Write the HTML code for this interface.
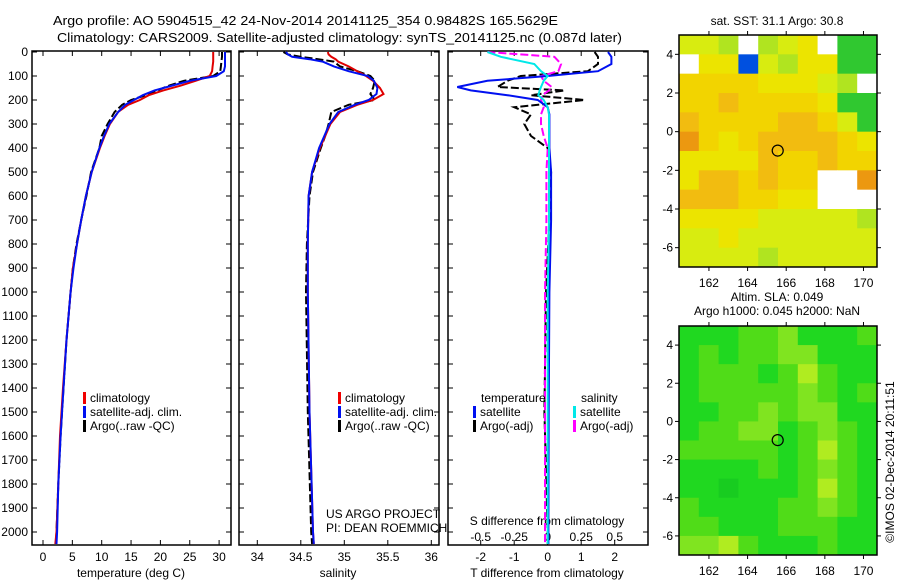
<!DOCTYPE html>
<html><head><meta charset="utf-8"><style>
html,body{margin:0;padding:0;background:#fff}
svg{display:block;font-family:"Liberation Sans",sans-serif}
text{fill:#000}
</style></head><body>
<svg id="fig" width="900" height="580" viewBox="0 0 900 580" xmlns="http://www.w3.org/2000/svg">
<text x="53" y="25" font-size="13" textLength="505" lengthAdjust="spacingAndGlyphs">Argo profile: AO 5904515_42 24-Nov-2014 20141125_354 0.98482S 165.5629E</text>
<text x="57" y="42" font-size="13" textLength="565" lengthAdjust="spacingAndGlyphs">Climatology: CARS2009. Satellite-adjusted climatology: synTS_20141125.nc (0.087d later)</text>
<g id="g"></g>
</svg>
<script>
// ---- profile data ----
const depthT = [0,20,40,60,80,100,120,140,160,180,200,220,250,300,350,400,500,600,700,800,900,1000,1200,1400,1600,1800,2000,2050];
const tempClim = [29.0,29.0,29.0,28.9,28.8,28.4,26,23.5,20.5,18,16.5,14.5,12.8,11.4,10.5,9.7,8.3,7.3,6.5,5.8,5.1,4.7,4.0,3.4,2.9,2.6,2.3,2.1];
const tempSat = [31.0,31.0,31.0,31.0,30.8,29.5,25,22,19,17,15.5,14,12.8,11.3,10.4,9.6,8.3,7.3,6.5,5.8,5.2,4.7,4.0,3.5,3.0,2.6,2.4,2.3];
const tempArgo = [30.5,30.5,30.4,30.3,30.2,29,24,21.5,19.5,17.5,15,13.5,12.2,11,10,9.6,8.2,7.4,6.5,5.7,5.1,4.7,4.0,3.5,3.0,2.6,2.3,2.2];
const depthS = [0,10,20,30,40,60,80,100,120,150,175,200,220,250,300,350,400,500,600,800,1000,1500,2000,2050];
const salClim = [34.81,34.82,34.85,34.9,34.93,35.05,35.15,35.25,35.33,35.41,35.45,35.33,35.15,34.95,34.84,34.78,34.72,34.63,34.59,34.58,34.58,34.6,34.64,34.65];
const salSat = [34.33,34.35,34.4,34.6,34.75,34.88,35.05,35.27,35.34,35.38,35.37,35.28,35.12,34.93,34.83,34.77,34.71,34.63,34.59,34.58,34.58,34.6,34.64,34.65];
const salArgo = [34.3,34.35,34.5,34.7,34.88,34.95,35.15,35.3,35.35,35.33,35.3,35.35,35.05,34.85,34.82,34.78,34.73,34.64,34.6,34.57,34.56,34.58,34.62,34.63];
const depthD = [0,20,50,80,100,120,146,160,180,200,230,260,300,350,400,500,700,1000,1500,2000,2050];
const dTsat = [1.8,1.9,1.9,1.5,0.0,-1.8,-2.7,-2.3,-1.2,-0.3,0.0,0.05,0.05,0.05,0.05,0.1,0.1,0.05,0.03,0.02,0.02];
const dTargo = [1.4,1.5,1.5,1.2,-0.8,-1.2,-1.5,0.5,-0.5,1.1,-1.0,-0.5,-0.7,-0.5,0.0,0.1,0.05,-0.05,-0.1,0.0,0.0];
const dSsat = [-0.45,-0.35,-0.1,-0.05,0.0,-0.03,-0.05,-0.06,-0.07,-0.03,0.0,0.01,0.01,0.01,0.01,0.01,0.01,0.0,0.0,0.0,0.0];
const dSargo = [-0.45,0.05,0.1,0.08,-0.05,-0.03,0.03,0.01,-0.04,-0.05,-0.03,-0.05,-0.05,-0.03,0.0,-0.01,-0.01,-0.02,-0.02,-0.02,-0.02];
const depthTicks = [0,100,200,300,400,500,600,700,800,900,1000,1100,1200,1300,1400,1500,1600,1700,1800,1900,2000];
const tTicks = [0,5,10,15,20,25,30];
const sTicks = [34,34.5,35,35.5,36];
const sTickLabels = ["34","34.5","35","35.5","36"];
const dTTicks = [-2,-1,0,1,2];
const dSTicks = [-0.5,-0.25,0,0.25,0.5];
const dSTickLabels = ["-0.5","-0.25","0","0.25","0.5"];
// ---- map data ----
const lonTicks = [162,164,166,168,170];
const latTicks = [4,2,0,-2,-4,-6];
const sstGrid = [
[29.3,29.2,29.0,NaN,29.0,29.3,29.5,NaN,28.7,28.6],
[NaN,29.6,29.7,27.0,29.2,29.0,29.5,29.6,28.8,28.6],
[29.9,30.0,29.8,29.8,29.6,29.7,29.6,29.4,29.0,NaN],
[29.8,30.0,30.1,29.9,29.8,29.9,29.8,29.6,28.8,28.6],
[30.3,29.9,29.8,29.9,30.0,30.1,30.2,29.9,29.4,28.8],
[30.4,30.0,29.5,29.8,30.1,30.2,30.3,30.3,30.0,29.6],
[29.6,29.5,29.7,29.6,30.1,30.0,30.0,30.1,30.0,29.8],
[29.6,30.1,30.3,30.0,30.2,30.0,29.8,NaN,NaN,30.4],
[30.1,30.3,30.2,29.9,29.8,29.5,29.6,NaN,NaN,NaN],
[29.5,29.6,29.7,29.5,29.3,29.2,29.4,29.4,29.3,29.0],
[29.4,29.3,29.5,29.3,29.4,29.3,29.3,29.4,29.4,29.3],
[29.3,29.4,29.2,29.3,29.0,29.3,29.3,29.4,29.3,29.3]];
const slaGrid = [
[0.04,0.04,0.04,0.05,0.05,0.06,0.04,0.04,0.04,0.05],
[0.04,0.05,0.04,0.05,0.05,0.06,0.06,0.04,0.04,0.04],
[0.04,0.05,0.05,0.05,0.04,0.05,0.07,0.05,0.04,0.04],
[0.04,0.05,0.05,0.05,0.05,0.05,0.06,0.05,0.04,0.05],
[0.04,0.04,0.05,0.05,0.06,0.05,0.06,0.06,0.04,0.04],
[0.04,0.05,0.05,0.06,0.06,0.04,0.05,0.06,0.05,0.04],
[0.05,0.05,0.05,0.05,0.05,0.04,0.05,0.07,0.05,0.04],
[0.04,0.04,0.04,0.04,0.05,0.04,0.05,0.06,0.05,0.04],
[0.04,0.04,0.03,0.04,0.04,0.04,0.05,0.07,0.05,0.04],
[0.05,0.04,0.04,0.04,0.04,0.05,0.05,0.06,0.05,0.04],
[0.05,0.05,0.04,0.04,0.04,0.05,0.05,0.05,0.04,0.04],
[0.06,0.06,0.07,0.05,0.04,0.04,0.04,0.05,0.04,0.04]];
const argoLon = 165.56, argoLat = -0.98;

const NS="http://www.w3.org/2000/svg";
const G=document.getElementById('g');
function mk(tag,attrs,parent){const e=document.createElementNS(NS,tag);for(const k in attrs)e.setAttribute(k,attrs[k]);(parent||G).appendChild(e);return e;}
function txt(s,x,y,size,anchor,parent){const t=mk('text',{x:x,y:y,'font-size':size,'text-anchor':anchor||'start'},parent);t.textContent=s;return t;}

const dy = d => 52 + d*0.24;
function panel(name,x0,x1){
  const g=mk('g',{});
  
  
  mk('rect',{x:x0,y:51,width:x1-x0,height:494,fill:'none',stroke:'#000','stroke-width':1.5},g);
  depthTicks.forEach(d=>{mk('line',{x1:x0,x2:x0+5,y1:dy(d),y2:dy(d),stroke:'#000'},g);mk('line',{x1:x1-5,x2:x1,y1:dy(d),y2:dy(d),stroke:'#000'},g);});
  return g;
}
function line(g,xs,ds,sx,color,dash,name){
  const p=xs.map((v,i)=>(i?'L':'M')+sx(v).toFixed(1)+','+dy(ds[i]).toFixed(1)).join('');
  const e=mk('path',{d:p,fill:'none',stroke:color,'stroke-width':2,'stroke-dasharray':dash||'none'},g);
  
  
}
function legend(g,items,x,y0){
  items.forEach((it,i)=>{const y=y0+i*14;mk('rect',{x:x,y:y-10,width:3,height:12,fill:it[1]},g);txt(it[0],x+7,y,12,'start',g);});
}
const yl=mk('g',{});


depthTicks.forEach(d=>txt(String(d),28,dy(d)+4,12,'end',yl));

const sxT=v=>43+v*5.87;
const p1=panel('temperature-panel',32,231);
tTicks.forEach(t=>{mk('line',{x1:sxT(t),x2:sxT(t),y1:51,y2:56,stroke:'#000'},p1);mk('line',{x1:sxT(t),x2:sxT(t),y1:540,y2:545,stroke:'#000'},p1);txt(String(t),sxT(t),561,12,'middle',p1);});
txt('temperature (deg C)',131,577,12,'middle',p1);
line(p1,tempArgo,depthT,sxT,'#000','8,3','temp-argo-line');
line(p1,tempClim,depthT,sxT,'#e00000',null,'temp-climatology-line');
line(p1,tempSat,depthT,sxT,'#0010f0',null,'temp-satellite-line');
legend(p1,[['climatology','#f00000'],['satellite-adj. clim.','#0010f0'],['Argo(..raw -QC)','#000']],83,402);

const sxS=v=>257.3+(v-34)*87;
const p2=panel('salinity-panel',239,439);
sTicks.forEach((s,i)=>{mk('line',{x1:sxS(s),x2:sxS(s),y1:51,y2:56,stroke:'#000'},p2);mk('line',{x1:sxS(s),x2:sxS(s),y1:540,y2:545,stroke:'#000'},p2);txt(sTickLabels[i],sxS(s),561,12,'middle',p2);});
txt('salinity',338,577,12,'middle',p2);
line(p2,salArgo,depthS,sxS,'#000','8,3','sal-argo-line');
line(p2,salClim,depthS,sxS,'#e00000',null,'sal-climatology-line');
line(p2,salSat,depthS,sxS,'#0010f0',null,'sal-satellite-line');
legend(p2,[['climatology','#f00000'],['satellite-adj. clim.','#0010f0'],['Argo(..raw -QC)','#000']],338,402);
txt('US ARGO PROJECT',326,518,12,'start',p2);
txt('PI: DEAN ROEMMICH',326,532,12,'start',p2);

const sxDT=v=>547.7+v*33.5;
const sxDS=v=>547.7+v*134;
const p3=panel('difference-panel',448,648);
dTTicks.forEach(t=>{mk('line',{x1:sxDT(t),x2:sxDT(t),y1:540,y2:545,stroke:'#000'},p3);txt(String(t),sxDT(t),561,12,'middle',p3);});
dSTicks.forEach((s,i)=>{mk('line',{x1:sxDS(s),x2:sxDS(s),y1:51,y2:56,stroke:'#000'},p3);txt(dSTickLabels[i],sxDS(s),541,12,'middle',p3);});
txt('S difference from climatology',547,525,12,'middle',p3);
txt('T difference from climatology',547,577,12,'middle',p3);
line(p3,dTargo,depthD,sxDT,'#000','8,3','tdiff-argo-line');
line(p3,dSargo,depthD,sxDS,'#ff00ff','8,3','sdiff-argo-line');
line(p3,dTsat,depthD,sxDT,'#0010f0',null,'tdiff-satellite-line');
line(p3,dSsat,depthD,sxDS,'#00e8e8',null,'sdiff-satellite-line');
txt('temperature',481,402,12,'start',p3);
txt('salinity',581,402,12,'start',p3);
legend(p3,[['satellite','#0010f0'],['Argo(-adj)','#000']],473,416);
legend(p3,[['satellite','#00e8e8'],['Argo(-adj)','#ff00ff']],573,416);

const lonMin=160.45, lonMax=170.7;
function map(name,y0,y1,grid,colorFn,title1,title2,ty){
  const g=mk('g',{});
  
  
  const x0=679,x1=877;
  const sx=l=>x0+(l-lonMin)/(lonMax-lonMin)*(x1-x0);
  const sy=la=>y0+(5-la)/12*(y1-y0);
  const nr=grid.length, nc=grid[0].length;
  const cw=(lonMax-lonMin)/nc, ch=12/nr;
  grid.forEach((row,r)=>row.forEach((v,c)=>{
    const lx=lonMin+c*cw, la=5-r*ch;
    const xa=sx(lx), ya=sy(la);
    const cell=mk('rect',{x:xa.toFixed(2),y:ya.toFixed(2),width:(sx(lx+cw)-xa+0.5).toFixed(2),height:(sy(la-ch)-ya+0.5).toFixed(2),fill:colorFn(v)},g);
    
    
  }));
  mk('rect',{x:x0,y:y0,width:x1-x0,height:y1-y0,fill:'none',stroke:'#000','stroke-width':1.5},g);
  lonTicks.forEach(l=>{mk('line',{x1:sx(l),x2:sx(l),y1:y0-4,y2:y0,stroke:'#000'},g);mk('line',{x1:sx(l),x2:sx(l),y1:y1,y2:y1+4,stroke:'#000'},g);txt(String(l),sx(l),y1+20,12,'middle',g);});
  latTicks.forEach(la=>{mk('line',{x1:x0-4,x2:x0,y1:sy(la),y2:sy(la),stroke:'#000'},g);mk('line',{x1:x1,x2:x1+4,y1:sy(la),y2:sy(la),stroke:'#000'},g);txt(String(la),673,sy(la)+4,12,'end',g);});
  const c=mk('circle',{cx:sx(argoLon),cy:sy(argoLat),r:5.5,fill:'none',stroke:'#000','stroke-width':1.2},g);
  
  
  txt(title1,777,ty,12,'middle',g);
  if(title2) txt(title2,777,ty+14,12,'middle',g);
}
function sstColor(v){
  if(isNaN(v)) return '#ffffff';
  if(v<27.5) return '#0050e0';
  if(v<28.9) return '#30c830';
  if(v<29.2) return '#b0e420';
  if(v<29.5) return '#d8ec10';
  if(v<29.8) return '#ece400';
  if(v<30.1) return '#f2d400';
  if(v<30.35) return '#f2bc10';
  return '#ec9810';
}
function slaColor(v){
  if(v<0.035) return '#18cc20';
  if(v<0.045) return '#20d820';
  if(v<0.055) return '#50dc18';
  if(v<0.065) return '#80e420';
  return '#b0ec20';
}
map('sst-map',35,267,sstGrid,sstColor,'sat. SST: 31.1  Argo: 30.8',null,25);
map('sla-map',326,555,slaGrid,slaColor,'Altim. SLA: 0.049','Argo h1000: 0.045 h2000: NaN',301);
const cr=txt('\u00A9IMOS 02-Dec-2014 20:11:51',0,0,12,'middle');
cr.setAttribute('transform','translate(894,462) rotate(-90)');


</script>
</body></html>
